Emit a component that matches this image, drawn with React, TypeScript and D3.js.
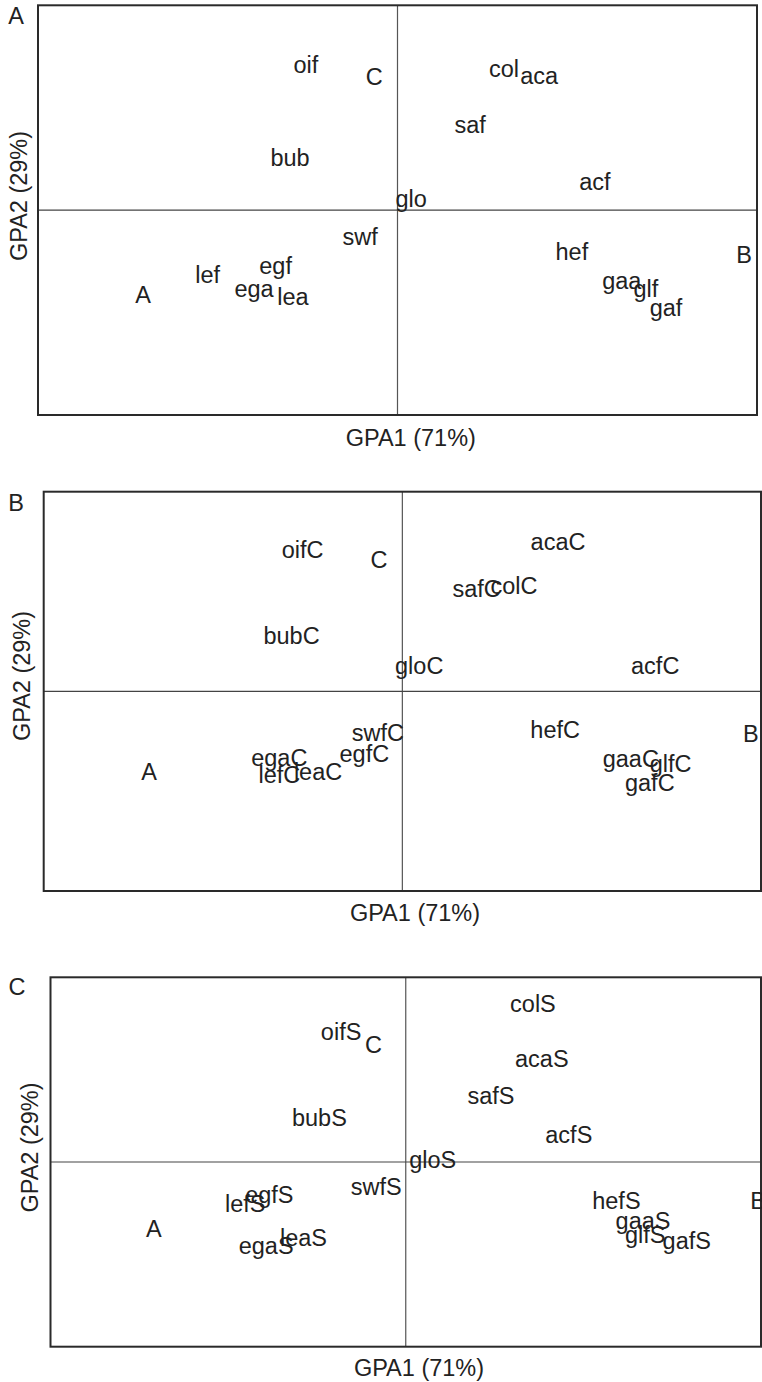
import React from 'react';
import * as d3 from 'd3';

// GPA consensus scores (label, GPA1, GPA2)
const labelsA = ['oif', 'C', 'col', 'aca', 'saf', 'bub', 'acf', 'glo', 'swf', 'hef', 'B', 'egf', 'lef', 'gaa', 'glf', 'A', 'ega', 'lea', 'gaf'];
const gpa1A = [-0.255, -0.065, 0.296, 0.394, 0.202, -0.299, 0.549, 0.038, -0.104, 0.485, 0.964, -0.339, -0.528, 0.624, 0.691, -0.708, -0.399, -0.291, 0.747];
const gpa2A = [0.708, 0.649, 0.688, 0.654, 0.415, 0.254, 0.137, 0.054, -0.132, -0.205, -0.22, -0.273, -0.317, -0.347, -0.386, -0.415, -0.386, -0.425, -0.479];

const labelsB = ['acaC', 'oifC', 'C', 'safC', 'colC', 'bubC', 'gloC', 'acfC', 'swfC', 'hefC', 'B', 'egaC', 'egfC', 'gaaC', 'glfC', 'lefC', 'leaC', 'A', 'gafC'];
const gpa1B = [0.434, -0.278, -0.065, 0.207, 0.311, -0.309, 0.047, 0.705, -0.068, 0.426, 0.972, -0.343, -0.106, 0.637, 0.748, -0.343, -0.235, -0.706, 0.69];
const gpa2B = [0.749, 0.711, 0.657, 0.512, 0.527, 0.277, 0.128, 0.128, -0.207, -0.19, -0.214, -0.332, -0.315, -0.339, -0.361, -0.419, -0.403, -0.403, -0.458];

const labelsC = ['colS', 'oifS', 'C', 'acaS', 'safS', 'bubS', 'acfS', 'gloS', 'swfS', 'egfS', 'lefS', 'hefS', 'B', 'gaaS', 'A', 'leaS', 'glfS', 'egaS', 'gafS'];
const gpa1C = [0.358, -0.182, -0.091, 0.383, 0.24, -0.243, 0.459, 0.076, -0.083, -0.384, -0.452, 0.593, 0.992, 0.668, -0.709, -0.288, 0.674, -0.393, 0.791];
const gpa2C = [0.859, 0.705, 0.633, 0.561, 0.359, 0.242, 0.15, 0.011, -0.134, -0.179, -0.227, -0.211, -0.211, -0.318, -0.363, -0.41, -0.395, -0.453, -0.428];

const xTitle = 'GPA1 (71%)';
const yTitle = 'GPA2 (29%)';

const FONT = '"Liberation Sans", Arial, Helvetica, sans-serif';
const INK = '#222';

type PanelProps = {
  tag: string;
  labels: string[];
  xs: number[];
  ys: number[];
  box: { left: number; top: number; right: number; bottom: number };
  tagPos: [number, number];
  yTitlePos: [number, number];
  xTitlePos: [number, number];
};

const Panel = ({ tag, labels, xs, ys, box, tagPos, yTitlePos, xTitlePos }: PanelProps) => {
  const x = d3.scaleLinear().domain([-1, 1]).range([box.left, box.right]);
  const y = d3.scaleLinear().domain([-1, 1]).range([box.bottom, box.top]);

  return (
    <g>
      {/* zero lines */}
      <line x1={x(0)} x2={x(0)} y1={box.top} y2={box.bottom} stroke="#555" strokeWidth={1.2} />
      <line x1={box.left} x2={box.right} y1={y(0)} y2={y(0)} stroke="#444" strokeWidth={1.2} />
      <rect
        x={box.left}
        y={box.top}
        width={box.right - box.left}
        height={box.bottom - box.top}
        fill="none"
        stroke="#2a2a2a"
        strokeWidth={2}
      />
      {labels.map((d, i) => (
        <text
          key={d + i}
          x={x(xs[i])}
          y={y(ys[i])}
          dy="0.35em"
          textAnchor="middle"
        >
          {d}
        </text>
      ))}
      <text x={tagPos[0]} y={tagPos[1]} dy="0.35em" textAnchor="middle">{tag}</text>
      <text x={xTitlePos[0]} y={xTitlePos[1]} dy="0.35em" textAnchor="middle">{xTitle}</text>
      <text
        transform={`translate(${yTitlePos[0]},${yTitlePos[1]}) rotate(-90)`}
        dy="0.35em"
        textAnchor="middle"
      >
        {yTitle}
      </text>
    </g>
  );
};

export default function App() {
  return (
    <svg
      width={762}
      height={1382}
      style={{ position: 'absolute', left: 0, top: 0, display: 'block', background: '#fff' }}
      fontFamily={FONT}
      fontSize={23.5}
      fill={INK}
    >
      <Panel
        tag="A"
        labels={labelsA}
        xs={gpa1A}
        ys={gpa2A}
        box={{ left: 38, top: 5.3, right: 757, bottom: 415 }}
        tagPos={[16, 16]}
        yTitlePos={[18.5, 196]}
        xTitlePos={[410.8, 437.5]}
      />
      <Panel
        tag="B"
        labels={labelsB}
        xs={gpa1B}
        ys={gpa2B}
        box={{ left: 43.7, top: 491.7, right: 761, bottom: 891 }}
        tagPos={[16, 503]}
        yTitlePos={[22, 676]}
        xTitlePos={[415, 913]}
      />
      <Panel
        tag="C"
        labels={labelsC}
        xs={gpa1C}
        ys={gpa2C}
        box={{ left: 50.5, top: 977.3, right: 761, bottom: 1346.7 }}
        tagPos={[17, 987]}
        yTitlePos={[30, 1147.5]}
        xTitlePos={[419, 1368]}
      />
    </svg>
  );
}
